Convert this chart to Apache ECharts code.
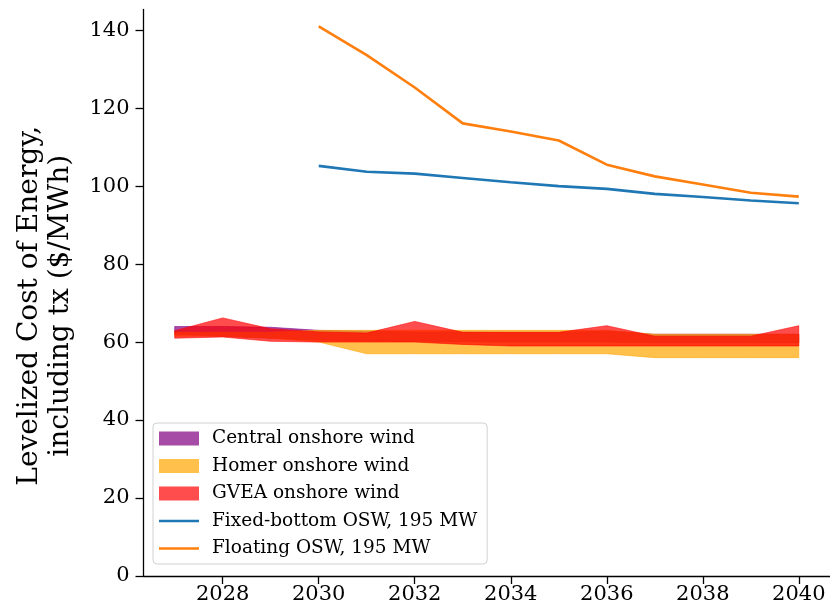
<!DOCTYPE html>
<html>
<head>
<meta charset="utf-8">
<script src="https://cdn.jsdelivr.net/npm/echarts@6/dist/echarts.min.js"></script>
<style>
  html, body { margin: 0; padding: 0; background: #fff; }
  #chart { width: 830px; height: 613px; }
</style>
</head>
<body>
<div id="chart"></div>
<script>
// Years covered by the onshore wind ranges
const years = [2027, 2028, 2029, 2030, 2031, 2032, 2033, 2034, 2035, 2036, 2037, 2038, 2039, 2040];
// Years covered by the offshore wind estimates
const oswYears = [2030, 2031, 2032, 2033, 2034, 2035, 2036, 2037, 2038, 2039, 2040];

// Onshore wind LCOE ranges ($/MWh): low and high bounds
const centralLow  = [62.0, 61.5, 61.0, 60.5, 60.3, 60.2, 60.1, 60.0, 60.0, 60.0, 59.8, 59.8, 59.8, 59.8];
const centralHigh = [64.0, 64.0, 63.8, 63.0, 62.8, 62.6, 62.6, 62.5, 62.5, 62.8, 62.0, 62.0, 62.0, 62.0];
const homerLow    = [61.5, 61.5, 61.0, 60.0, 57.0, 57.0, 57.0, 57.0, 57.0, 57.0, 56.0, 56.0, 56.0, 56.0];
const homerHigh   = [62.5, 62.5, 62.5, 63.0, 63.0, 63.0, 63.0, 63.0, 63.0, 63.0, 62.0, 62.0, 62.0, 62.0];
const gveaLow     = [61.0, 61.3, 60.2, 60.0, 60.0, 60.0, 59.4, 59.0, 59.0, 59.0, 59.0, 59.0, 59.0, 59.0];
const gveaHigh    = [62.9, 66.2, 63.4, 62.6, 62.3, 65.3, 62.5, 62.5, 62.5, 64.2, 61.5, 61.5, 61.5, 64.2];

// Offshore wind LCOE ($/MWh)
const fixedBottom = [105.2, 103.7, 103.2, 102.1, 101.0, 100.0, 99.3, 98.0, 97.2, 96.3, 95.6];
const floating    = [141.0, 133.6, 125.3, 116.1, 114.0, 111.7, 105.5, 102.5, 100.4, 98.3, 97.3];

// Axis ticks
const xTicks = [2028, 2030, 2032, 2034, 2036, 2038, 2040];
const yTicks = [0, 20, 40, 60, 80, 100, 120, 140];

const FONT = 'DejaVu Serif';
const purple = 'rgba(128,0,128,0.7)';
const orange = 'rgba(255,165,0,0.7)';
const red    = 'rgba(255,0,0,0.7)';

function pairs(xs, ys) { return xs.map((x, i) => [x, ys[i]]); }

// Shaded range between a low and a high bound, drawn as one polygon
function band(name, lo, hi, color) {
  return {
    name: name,
    type: 'custom',
    itemStyle: { color: color },
    encode: { x: 0, y: [1, 2] },
    data: years.map((y, i) => [y, lo[i], hi[i]]),
    renderItem: function (params, api) {
      if (params.dataIndex !== 0) return null;
      const top = years.map((y, i) => api.coord([y, hi[i]]));
      const bottom = years.map((y, i) => api.coord([y, lo[i]])).reverse();
      return {
        type: 'polygon',
        shape: { points: top.concat(bottom) },
        style: { fill: color, stroke: color, lineWidth: 0.8 }
      };
    }
  };
}

// Legend swatch for a plain line
const lineIcon = 'path://M0,0H40V2.6H0Z';

const chart = echarts.init(document.getElementById('chart'), null, { renderer: 'canvas' });

chart.setOption({
  backgroundColor: '#ffffff',
  animation: false,
  grid: { left: 143.5, right: 0, top: 9.5, bottom: 37 },
  xAxis: {
    type: 'value', min: 2026.35, max: 2040.65,
    splitLine: { show: false },
    axisLine: { lineStyle: { color: '#000', width: 1.3 } },
    axisTick: { customValues: xTicks, length: 8, lineStyle: { color: '#000', width: 1.3 } },
    axisLabel: {
      customValues: xTicks, color: '#000', fontFamily: FONT, fontSize: 21, margin: 8,
      formatter: v => String(v)
    }
  },
  yAxis: {
    type: 'value', min: 0, max: 145.3,
    name: 'Levelized Cost of Energy,\nincluding tx ($/MWh)',
    nameLocation: 'middle', nameGap: 67,
    nameTextStyle: {
      color: '#000', fontFamily: FONT, fontSize: 28, lineHeight: 31,
      padding: [0, 26, 0, 0]
    },
    splitLine: { show: false },
    axisLine: { show: true, lineStyle: { color: '#000', width: 1.3 } },
    axisTick: { show: true, customValues: yTicks, length: 8, lineStyle: { color: '#000', width: 1.3 } },
    axisLabel: { customValues: yTicks, color: '#000', fontFamily: FONT, fontSize: 21, margin: 14 }
  },
  legend: {
    orient: 'vertical', left: 153, top: 423,
    padding: [6, 10, 6, 6],
    itemWidth: 40, itemHeight: 14, itemGap: 8.5,
    backgroundColor: 'rgba(255,255,255,0.85)',
    borderColor: '#d0d0d0', borderWidth: 1, borderRadius: 4,
    textStyle: { color: '#000', fontFamily: FONT, fontSize: 18.5, padding: [0, 0, 0, 8] },
    data: [
      { name: 'Central onshore wind', icon: 'rect', itemStyle: { color: purple } },
      { name: 'Homer onshore wind', icon: 'rect', itemStyle: { color: orange } },
      { name: 'GVEA onshore wind', icon: 'rect', itemStyle: { color: red } },
      { name: 'Fixed-bottom OSW, 195 MW', icon: lineIcon, itemStyle: { color: '#1f77b4' } },
      { name: 'Floating OSW, 195 MW', icon: lineIcon, itemStyle: { color: '#ff7f0e' } }
    ]
  },
  series: [
    band('Central onshore wind', centralLow, centralHigh, purple),
    band('Homer onshore wind', homerLow, homerHigh, orange),
    band('GVEA onshore wind', gveaLow, gveaHigh, red),
    {
      name: 'Fixed-bottom OSW, 195 MW', type: 'line', symbol: 'none',
      data: pairs(oswYears, fixedBottom),
      lineStyle: { color: '#1f77b4', width: 2.6 }, itemStyle: { color: '#1f77b4' }
    },
    {
      name: 'Floating OSW, 195 MW', type: 'line', symbol: 'none',
      data: pairs(oswYears, floating),
      lineStyle: { color: '#ff7f0e', width: 2.6 }, itemStyle: { color: '#ff7f0e' }
    }
  ]
});
</script>
</body>
</html>
